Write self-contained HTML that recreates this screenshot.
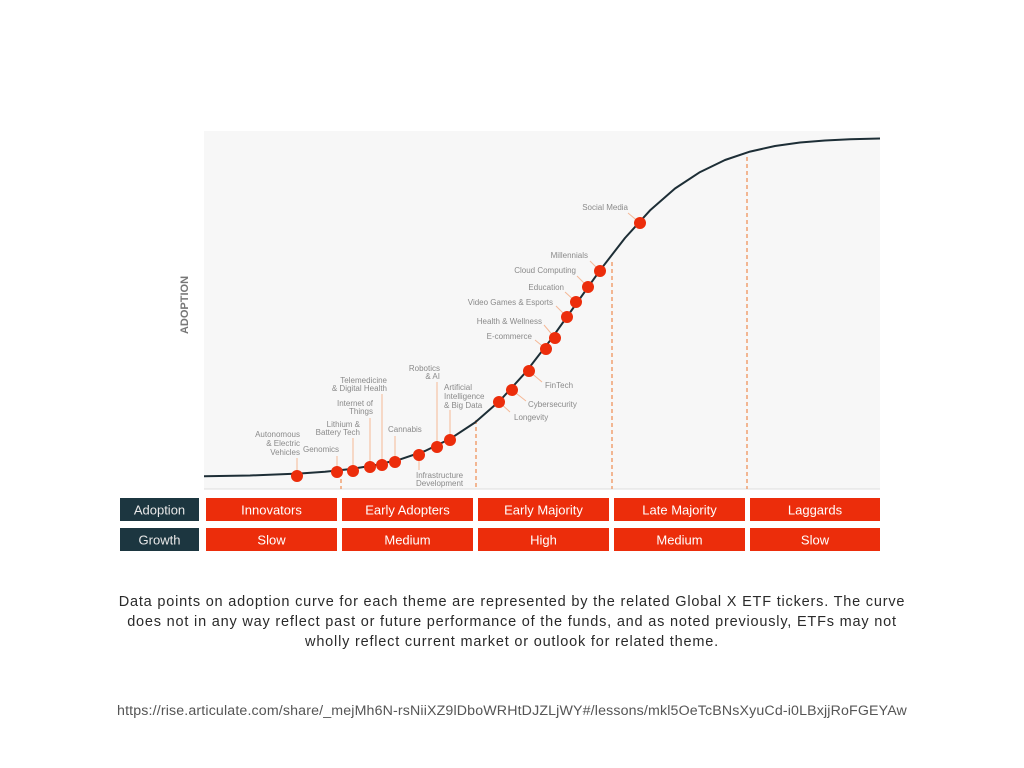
<!DOCTYPE html>
<html><head><meta charset="utf-8"><style>
body{margin:0;width:1024px;height:768px;background:#fff;overflow:hidden;font-family:"Liberation Sans",sans-serif}
.cap{position:absolute;left:60px;width:904px;top:592px;text-align:center;font-size:14.5px;line-height:20px;color:#2a2a2a;white-space:nowrap;letter-spacing:0.8px}
.url{position:absolute;left:60px;width:904px;top:703px;text-align:center;font-size:14.2px;color:#555;letter-spacing:0.15px}
</style></head><body>
<svg width="1024" height="768" style="position:absolute;left:0;top:0" font-family="Liberation Sans Narrow, Liberation Sans, sans-serif">
<rect x="204" y="131" width="676" height="358" fill="#f7f7f7"/>
<line x1="204" y1="489" x2="880" y2="489" stroke="#ddd"/>
<text transform="translate(188,305) rotate(-90)" text-anchor="middle" font-size="11" font-weight="bold" fill="#777" font-family="Liberation Sans, sans-serif">ADOPTION</text>
<g stroke="#f0a070" stroke-width="1.5" stroke-dasharray="4,3">
<line x1="341" y1="472" x2="341" y2="489"/>
<line x1="476" y1="420" x2="476" y2="489"/>
<line x1="612" y1="262" x2="612" y2="489"/>
<line x1="747" y1="157" x2="747" y2="489"/>
</g>
<polyline fill="none" stroke="#1d2e36" stroke-width="2" stroke-linejoin="round" points="204,476.3 250,475.5 300,473.5 325,471.8 350,469.1 375,465.2 400,459.4 425,451 450,438.9 475,422.5 500,400.6 525,373.1 550,340.7 575,305.5 600,270.3 625,238 650,210.4 675,188.5 700,172.1 725,160 750,151.6 775,146 800,142.5 825,140.5 850,139.3 880,138.5"/>
<g stroke="#f5b896" stroke-width="1">
<line x1="297" y1="476" x2="297" y2="458"/><line x1="337" y1="472" x2="337" y2="456"/>
<line x1="353" y1="471" x2="353" y2="438"/><line x1="370" y1="467" x2="370" y2="418"/>
<line x1="382" y1="465" x2="382" y2="394"/><line x1="395" y1="462" x2="395" y2="436"/>
<line x1="437" y1="447" x2="437" y2="382"/><line x1="450" y1="440" x2="450" y2="410"/>
<line x1="419" y1="455" x2="419" y2="470"/>
<line x1="499" y1="402" x2="510" y2="412"/><line x1="512" y1="390" x2="526" y2="401"/>
<line x1="529" y1="371" x2="542" y2="382"/><line x1="546" y1="349" x2="535" y2="340"/>
<line x1="555" y1="338" x2="544" y2="325"/><line x1="567" y1="317" x2="556" y2="306"/>
<line x1="576" y1="302" x2="565" y2="292"/><line x1="588" y1="287" x2="577" y2="276"/>
<line x1="600" y1="271" x2="590" y2="261"/><line x1="640" y1="223" x2="628" y2="213"/>
</g>
<g fill="#ec2d0b">
<circle cx="297" cy="476" r="6"/><circle cx="337" cy="472" r="6"/><circle cx="353" cy="471" r="6"/>
<circle cx="370" cy="467" r="6"/><circle cx="382" cy="465" r="6"/><circle cx="395" cy="462" r="6"/>
<circle cx="419" cy="455" r="6"/><circle cx="437" cy="447" r="6"/><circle cx="450" cy="440" r="6"/>
<circle cx="499" cy="402" r="6"/><circle cx="512" cy="390" r="6"/><circle cx="529" cy="371" r="6"/>
<circle cx="546" cy="349" r="6"/><circle cx="555" cy="338" r="6"/><circle cx="567" cy="317" r="6"/>
<circle cx="576" cy="302" r="6"/><circle cx="588" cy="287" r="6"/><circle cx="600" cy="271" r="6"/>
<circle cx="640" cy="223" r="6"/>
</g>
<g font-size="8" fill="#8a8a8a">
<text x="300" y="437" text-anchor="end">Autonomous</text><text x="300" y="446" text-anchor="end">&amp; Electric</text><text x="300" y="455" text-anchor="end">Vehicles</text>
<text x="303" y="452">Genomics</text>
<text x="360" y="427" text-anchor="end">Lithium &amp;</text><text x="360" y="435" text-anchor="end">Battery Tech</text>
<text x="373" y="406" text-anchor="end">Internet of</text><text x="373" y="414" text-anchor="end">Things</text>
<text x="387" y="383" text-anchor="end">Telemedicine</text><text x="387" y="391" text-anchor="end">&amp; Digital Health</text>
<text x="388" y="432">Cannabis</text>
<text x="440" y="371" text-anchor="end">Robotics</text><text x="440" y="379" text-anchor="end">&amp; AI</text>
<text x="444" y="390">Artificial</text><text x="444" y="399">Intelligence</text><text x="444" y="408">&amp; Big Data</text>
<text x="416" y="478">Infrastructure</text><text x="416" y="486">Development</text>
<text x="514" y="420">Longevity</text><text x="528" y="407">Cybersecurity</text><text x="545" y="388">FinTech</text>
<text x="532" y="339" text-anchor="end">E-commerce</text>
<text x="542" y="324" text-anchor="end">Health &amp; Wellness</text>
<text x="553" y="305" text-anchor="end">Video Games &amp; Esports</text>
<text x="564" y="290" text-anchor="end">Education</text>
<text x="576" y="273" text-anchor="end">Cloud Computing</text>
<text x="588" y="258" text-anchor="end">Millennials</text>
<text x="628" y="210" text-anchor="end">Social Media</text>
</g>
<g font-family="Liberation Sans, sans-serif" font-size="13" text-anchor="middle">
<rect x="120" y="498" width="79" height="23" fill="#1c3640"/><text x="159.5" y="514.5" fill="#e8e8e8">Adoption</text>
<rect x="120" y="528" width="79" height="23" fill="#1c3640"/><text x="159.5" y="544.5" fill="#e8e8e8">Growth</text>
<g fill="#ec2d0b">
<rect x="206" y="498" width="131" height="23"/><rect x="342" y="498" width="131" height="23"/><rect x="478" y="498" width="131" height="23"/><rect x="614" y="498" width="131" height="23"/><rect x="750" y="498" width="130" height="23"/>
<rect x="206" y="528" width="131" height="23"/><rect x="342" y="528" width="131" height="23"/><rect x="478" y="528" width="131" height="23"/><rect x="614" y="528" width="131" height="23"/><rect x="750" y="528" width="130" height="23"/>
</g>
<g fill="#fff">
<text x="271.5" y="514.5">Innovators</text><text x="407.5" y="514.5">Early Adopters</text><text x="543.5" y="514.5">Early Majority</text><text x="679.5" y="514.5">Late Majority</text><text x="815" y="514.5">Laggards</text>
<text x="271.5" y="544.5">Slow</text><text x="407.5" y="544.5">Medium</text><text x="543.5" y="544.5">High</text><text x="679.5" y="544.5">Medium</text><text x="815" y="544.5">Slow</text>
</g></g>
</svg>
<div class="cap">Data points on adoption curve for each theme are represented by the related Global X ETF tickers. The curve<br>does not in any way reflect past or future performance of the funds, and as noted previously, ETFs may not<br>wholly reflect current market or outlook for related theme.</div>
<div class="url">https://rise.articulate.com/share/_mejMh6N-rsNiiXZ9lDboWRHtDJZLjWY#/lessons/mkl5OeTcBNsXyuCd-i0LBxjjRoFGEYAw</div>
</body></html>
